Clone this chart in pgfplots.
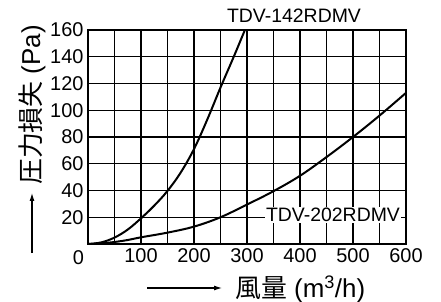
\documentclass[border=0pt]{standalone}
\usepackage{fontspec}
\setmainfont{Liberation Sans}
\newfontfamily\cjk{Noto Sans CJK JP}
\usepackage{pgfplots}
\pgfplotsset{compat=1.18}
\usetikzlibrary{arrows.meta}
\begin{document}
\begin{tikzpicture}
\begin{axis}[
  at={(0,0)}, anchor=south west,
  scale only axis, width=318bp, height=214bp,
  xmin=0, xmax=600, ymin=0, ymax=160,
  xtick={0,50,...,600},
  xticklabels={,,100,,200,,300,,400,,500,,600},
  ytick={0,20,...,160},
  yticklabels={,20,40,60,80,100,120,140,160},
  major tick length=0pt,
  grid=major,
  major grid style={black, line width=1.1bp},
  axis line style={black, line width=1.5bp},
  tick label style={font=\fontsize{20}{22}\selectfont, black},
  xticklabel style={yshift=-1bp},
  yticklabel style={xshift=-1bp},
  /pgf/number format/assume math mode=true,
  clip=true,
]
\addplot[black, line width=2bp, smooth, tension=0.6] coordinates {
 (0,0) (25,1.2) (50,4.8) (75,10.8) (100,19.2) (125,28.7) (150,39.7) (175,53.5) (200,71) (225,93) (250,117) (275,140) (296,160)
};
\addplot[black, line width=2bp, smooth, tension=0.6] coordinates {
 (0,0) (25,0.5) (50,1.5) (75,3) (100,5) (150,8.5) (200,13) (250,20) (300,29.5) (350,39.5) (400,51) (450,65) (500,80) (550,96) (600,113)
};
\end{axis}
\path[use as bounding box] (-88bp,-58bp) rectangle (353bp,244bp);
\node[font=\fontsize{19.5}{22}\selectfont] at (206bp,228bp) {TDV-142RDMV};
\node[font=\fontsize{19.5}{22}\selectfont, fill=white, inner sep=1bp] at (245bp,29bp) {TDV-202RDMV};
\node[font=\fontsize{20}{22}\selectfont] at (-9.7bp,-13.3bp) {0};
\draw[line width=1.1bp, -{Latex[length=8bp,width=5bp]}] (59bp,-44bp) -- (134bp,-44bp);
\node[anchor=west, font=\fontsize{26}{28}\selectfont, inner sep=0pt] at (147bp,-45bp) {{\cjk 風量} (m\textsuperscript{3}/h)};
\draw[line width=1.1bp, -{Latex[length=8bp,width=5bp]}] (-56bp,-9bp) -- (-56bp,51bp);
\node[rotate=90, font=\fontsize{26}{28}\selectfont, inner sep=0pt] at (-56bp,139bp) {{\cjk 圧力損失} (Pa)};
\end{tikzpicture}
\end{document}
